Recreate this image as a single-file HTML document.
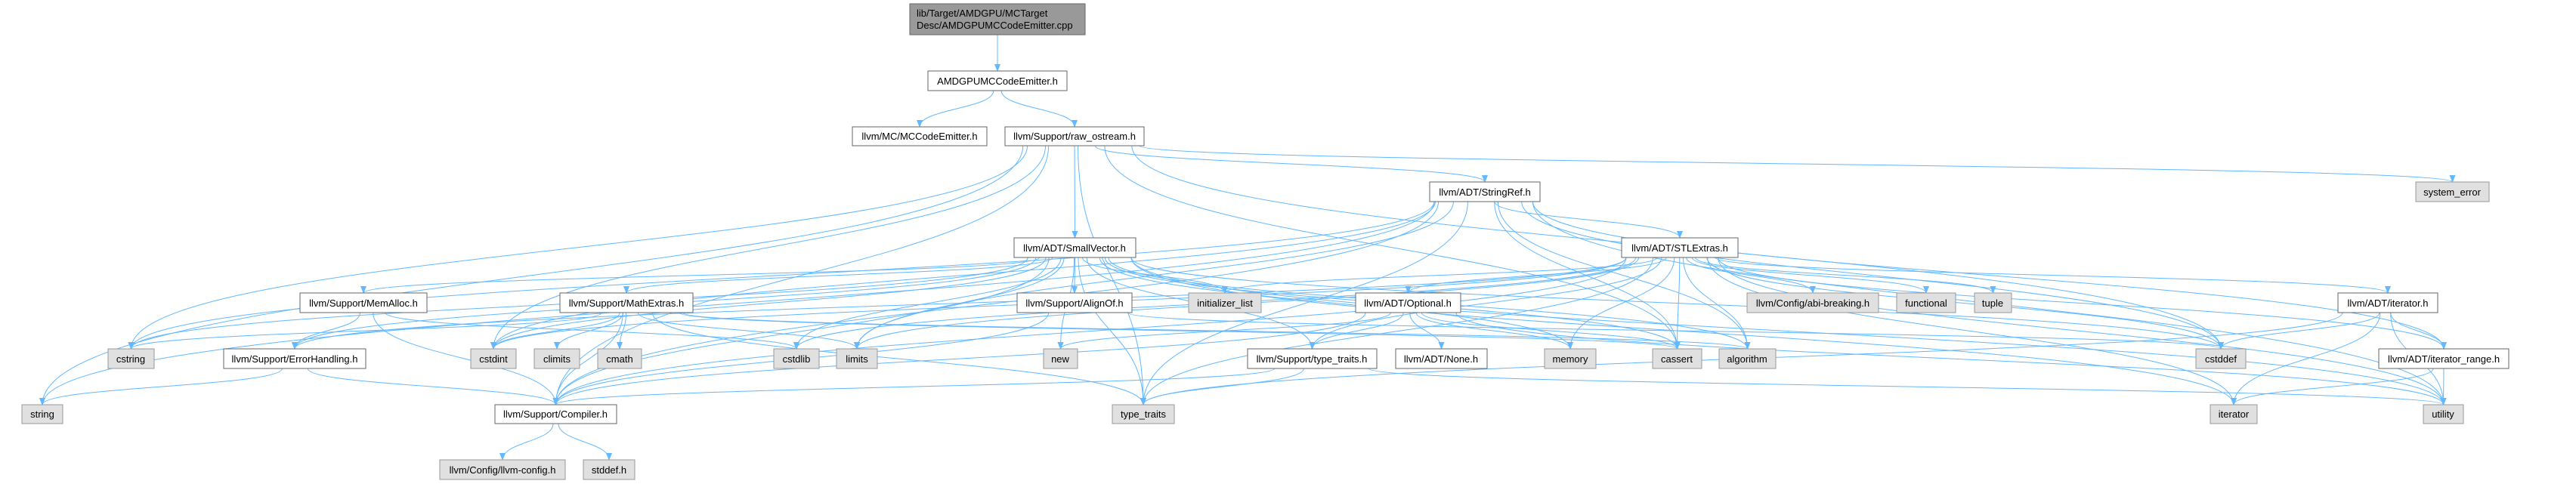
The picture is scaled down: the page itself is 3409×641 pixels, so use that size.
<!DOCTYPE html>
<html><head><meta charset="utf-8"><style>
html,body{margin:0;padding:0;background:#fff;}
svg{display:block;}
text{font-family:"Liberation Sans",Arial,sans-serif;font-size:13px;fill:#000;}
</style></head><body>
<svg id="g" width="3409" height="641" viewBox="0 0 3409 641" xmlns="http://www.w3.org/2000/svg">
<defs><marker id="a" markerWidth="10" markerHeight="8" refX="9" refY="4" orient="auto" markerUnits="userSpaceOnUse"><path d="M0,0 L10,4 L0,8 z" fill="#63b8ff"/></marker></defs>
<g id="edges" fill="none" stroke="#63b8ff" stroke-width="1"></g>
<g id="nodes">
<rect x="1204" y="5" width="232" height="41" fill="#999" stroke="#666"/>
<text x="1213" y="22">lib/Target/AMDGPU/MCTarget</text><text x="1213" y="38">Desc/AMDGPUMCCodeEmitter.cpp</text>
<rect x="1228" y="94" width="184" height="26" fill="#fff" stroke="#666"/><text x="1320" y="112" text-anchor="middle">AMDGPUMCCodeEmitter.h</text>
<rect x="1128" y="168" width="178" height="25" fill="#fff" stroke="#666"/><text x="1217" y="185" text-anchor="middle">llvm/MC/MCCodeEmitter.h</text>
<rect x="1330" y="168" width="184" height="25" fill="#fff" stroke="#666"/><text x="1422" y="185" text-anchor="middle">llvm/Support/raw_ostream.h</text>
<rect x="1892" y="241" width="146" height="26" fill="#fff" stroke="#666"/><text x="1965" y="259" text-anchor="middle">llvm/ADT/StringRef.h</text>
<rect x="3197" y="241" width="97" height="26" fill="#e0e0e0" stroke="#999"/><text x="3245" y="259" text-anchor="middle">system_error</text>
<rect x="1342" y="315" width="161" height="26" fill="#fff" stroke="#666"/><text x="1422" y="333" text-anchor="middle">llvm/ADT/SmallVector.h</text>
<rect x="2146" y="315" width="154" height="26" fill="#fff" stroke="#666"/><text x="2223" y="333" text-anchor="middle">llvm/ADT/STLExtras.h</text>
<rect x="397" y="388" width="168" height="26" fill="#fff" stroke="#666"/><text x="481" y="406" text-anchor="middle">llvm/Support/MemAlloc.h</text>
<rect x="741" y="388" width="176" height="26" fill="#fff" stroke="#666"/><text x="829" y="406" text-anchor="middle">llvm/Support/MathExtras.h</text>
<rect x="1346" y="388" width="152" height="26" fill="#fff" stroke="#666"/><text x="1422" y="406" text-anchor="middle">llvm/Support/AlignOf.h</text>
<rect x="1573" y="388" width="96" height="26" fill="#e0e0e0" stroke="#999"/><text x="1621" y="406" text-anchor="middle">initializer_list</text>
<rect x="1794" y="388" width="139" height="26" fill="#fff" stroke="#666"/><text x="1863" y="406" text-anchor="middle">llvm/ADT/Optional.h</text>
<rect x="2312" y="388" width="174" height="26" fill="#e0e0e0" stroke="#999"/><text x="2399" y="406" text-anchor="middle">llvm/Config/abi-breaking.h</text>
<rect x="2510" y="388" width="78" height="26" fill="#e0e0e0" stroke="#999"/><text x="2549" y="406" text-anchor="middle">functional</text>
<rect x="2613" y="388" width="49" height="26" fill="#e0e0e0" stroke="#999"/><text x="2637" y="406" text-anchor="middle">tuple</text>
<rect x="3094" y="388" width="132" height="26" fill="#fff" stroke="#666"/><text x="3160" y="406" text-anchor="middle">llvm/ADT/iterator.h</text>
<rect x="143" y="462" width="61" height="26" fill="#e0e0e0" stroke="#999"/><text x="173" y="480" text-anchor="middle">cstring</text>
<rect x="296" y="462" width="188" height="26" fill="#fff" stroke="#666"/><text x="390" y="480" text-anchor="middle">llvm/Support/ErrorHandling.h</text>
<rect x="623" y="462" width="60" height="26" fill="#e0e0e0" stroke="#999"/><text x="653" y="480" text-anchor="middle">cstdint</text>
<rect x="707" y="462" width="60" height="26" fill="#e0e0e0" stroke="#999"/><text x="737" y="480" text-anchor="middle">climits</text>
<rect x="791" y="462" width="58" height="26" fill="#e0e0e0" stroke="#999"/><text x="820" y="480" text-anchor="middle">cmath</text>
<rect x="1024" y="462" width="60" height="26" fill="#e0e0e0" stroke="#999"/><text x="1054" y="480" text-anchor="middle">cstdlib</text>
<rect x="1107" y="462" width="54" height="26" fill="#e0e0e0" stroke="#999"/><text x="1134" y="480" text-anchor="middle">limits</text>
<rect x="1381" y="462" width="45" height="26" fill="#e0e0e0" stroke="#999"/><text x="1403" y="480" text-anchor="middle">new</text>
<rect x="1651" y="462" width="171" height="26" fill="#fff" stroke="#666"/><text x="1736" y="480" text-anchor="middle">llvm/Support/type_traits.h</text>
<rect x="1847" y="462" width="121" height="26" fill="#fff" stroke="#666"/><text x="1907" y="480" text-anchor="middle">llvm/ADT/None.h</text>
<rect x="2044" y="462" width="68" height="26" fill="#e0e0e0" stroke="#999"/><text x="2078" y="480" text-anchor="middle">memory</text>
<rect x="2187" y="462" width="65" height="26" fill="#e0e0e0" stroke="#999"/><text x="2219" y="480" text-anchor="middle">cassert</text>
<rect x="2275" y="462" width="75" height="26" fill="#e0e0e0" stroke="#999"/><text x="2312" y="480" text-anchor="middle">algorithm</text>
<rect x="2906" y="462" width="66" height="26" fill="#e0e0e0" stroke="#999"/><text x="2939" y="480" text-anchor="middle">cstddef</text>
<rect x="3148" y="462" width="172" height="26" fill="#fff" stroke="#666"/><text x="3234" y="480" text-anchor="middle">llvm/ADT/iterator_range.h</text>
<rect x="29" y="536" width="54" height="25" fill="#e0e0e0" stroke="#999"/><text x="56" y="553" text-anchor="middle">string</text>
<rect x="655" y="536" width="161" height="25" fill="#fff" stroke="#666"/><text x="735" y="553" text-anchor="middle">llvm/Support/Compiler.h</text>
<rect x="1472" y="536" width="82" height="25" fill="#e0e0e0" stroke="#999"/><text x="1513" y="553" text-anchor="middle">type_traits</text>
<rect x="2925" y="536" width="62" height="25" fill="#e0e0e0" stroke="#999"/><text x="2956" y="553" text-anchor="middle">iterator</text>
<rect x="3207" y="536" width="53" height="25" fill="#e0e0e0" stroke="#999"/><text x="3233" y="553" text-anchor="middle">utility</text>
<rect x="582" y="609" width="166" height="26" fill="#e0e0e0" stroke="#999"/><text x="665" y="627" text-anchor="middle">llvm/Config/llvm-config.h</text>
<rect x="772" y="609" width="68" height="26" fill="#e0e0e0" stroke="#999"/><text x="806" y="627" text-anchor="middle">stddef.h</text>
</g>
</svg>
<script>
var N={cpp:[1204,5,232,41],amd:[1228,94,184,26],mc:[1128,168,178,25],raw:[1330,168,184,25],sref:[1892,241,146,26],syserr:[3197,241,97,26],sv:[1342,315,161,26],stl:[2146,315,154,26],mem:[397,388,168,26],math:[741,388,176,26],align:[1346,388,152,26],init:[1573,388,96,26],opt:[1794,388,139,26],abi:[2312,388,174,26],func:[2510,388,78,26],tuple:[2613,388,49,26],ith:[3094,388,132,26],cstring:[143,462,61,26],err:[296,462,188,26],cstdint:[623,462,60,26],climits:[707,462,60,26],cmath:[791,462,58,26],cstdlib:[1024,462,60,26],limits:[1107,462,54,26],nw:[1381,462,45,26],tth:[1651,462,171,26],none:[1847,462,121,26],memory:[2044,462,68,26],cassert:[2187,462,65,26],algo:[2275,462,75,26],cstddef:[2906,462,66,26],itr:[3148,462,172,26],string:[29,536,54,25],comp:[655,536,161,25],tt:[1472,536,82,25],iter:[2925,536,62,25],util:[3207,536,53,25],cfg:[582,609,166,26],stddef:[772,609,68,26]};
var E={cpp:['amd'],amd:['mc','raw'],raw:['sref','sv','comp','tt','cassert','cstddef','cstdint','cstring','string','syserr'],
sref:['stl','itr','comp','algo','cassert','cstddef','cstring','limits','string','tt','util','cstdint'],
sv:['align','comp','math','mem','err','tth','algo','cassert','cstddef','cstdlib','cstring','init','iter','limits','memory','nw','tt','util','cstdint'],
stl:['opt','abi','ith','itr','err','tth','algo','cassert','cstddef','cstdint','cstdlib','func','init','iter','limits','memory','tuple','tt','util','comp'],
mem:['comp','err','cstdlib'],math:['comp','cassert','climits','cmath','cstdint','cstring','limits','tt','algo'],
align:['comp','cstddef'],opt:['none','tth','comp','cassert','memory','nw','util'],tth:['comp','tt','util'],
err:['comp','string'],comp:['cfg','stddef'],ith:['itr','cstddef','iter','tt','util'],itr:['iter','util']};
var g=document.getElementById('edges'),s='';
for(var k in E){var a=N[k];E[k].forEach(function(t){var b=N[t];
var tx=b[0]+b[2]/2,ty=b[1],sy=a[1]+a[3];
var off=Math.max(-a[2]/2+6,Math.min(a[2]/2-6,(tx-(a[0]+a[2]/2))*0.05));
var sx=a[0]+a[2]/2+off;
if(b[1]<=a[1]+a[3]){ty=b[1]+b[3]/2;tx=b[0];sy=a[1]+a[3]/2;sx=a[0]+a[2];}
var dy=ty-sy;
s+='<path marker-end="url(#a)" d="M'+sx+','+sy+' C'+sx+','+(sy+dy*0.5)+' '+tx+','+(ty-dy*0.5)+' '+tx+','+ty+'"/>';});}
g.innerHTML=s;
</script>
</body></html>
